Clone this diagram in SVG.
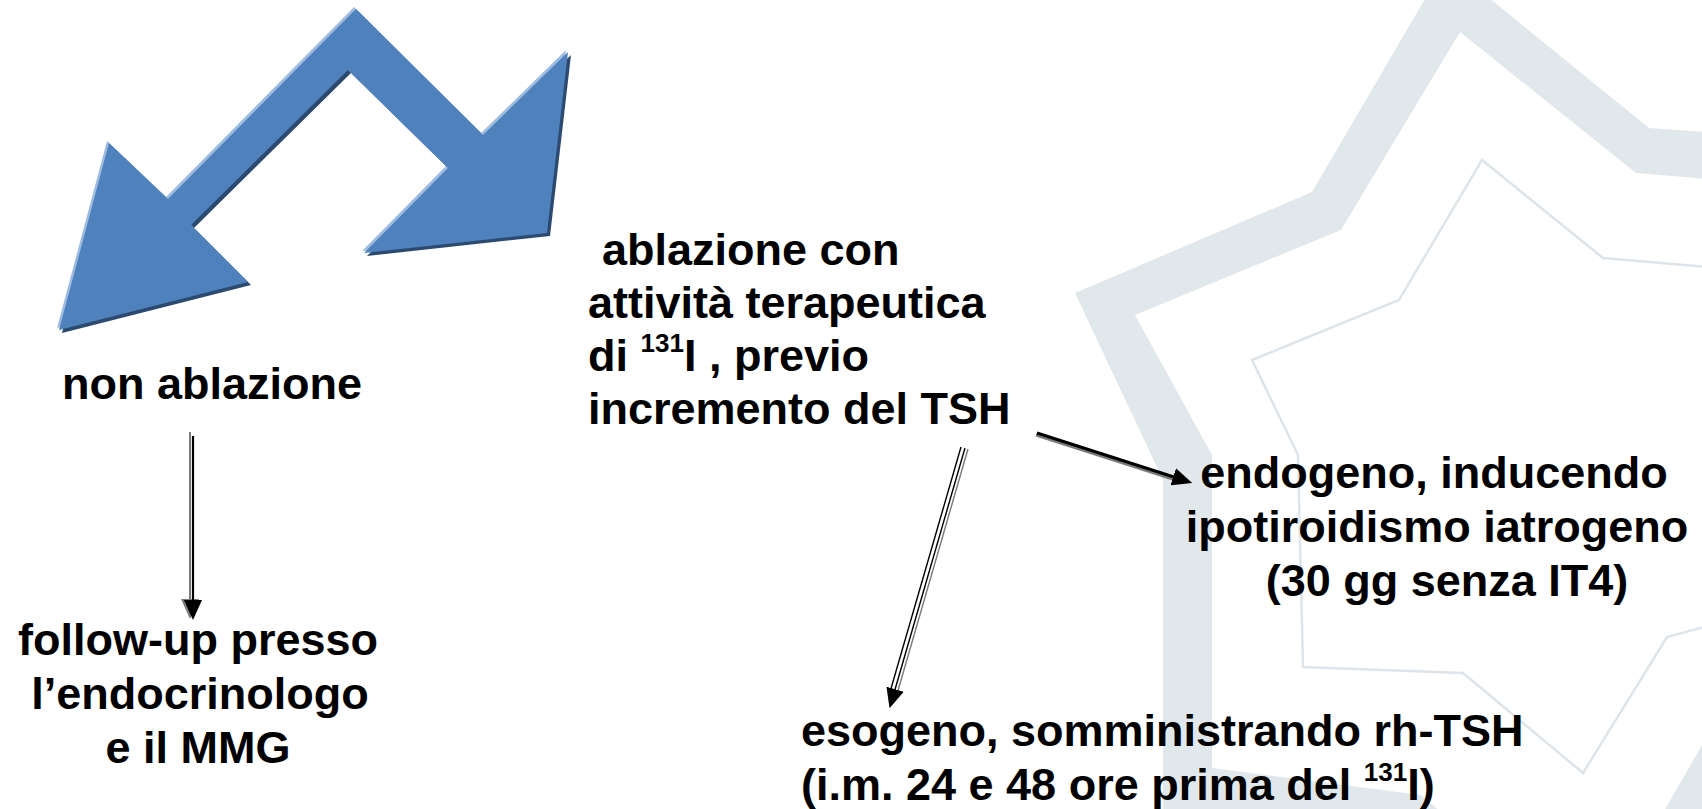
<svg xmlns="http://www.w3.org/2000/svg" xmlns:xlink="http://www.w3.org/1999/xlink" width="1702" height="809" viewBox="0 0 1702 809">
<style>
  .t { font-family: "Liberation Sans", Arial, sans-serif; font-weight: bold; font-size: 45px; fill: #000; }
  .sup { font-size: 26px; }
  .band { fill: #e1e8ec; fill-rule: evenodd; }
  .thin { fill: none; stroke: #dde5ea; stroke-width: 2.5; stroke-linejoin: miter; }
  .blk { stroke: #000; fill: none; }
  .gry { stroke: #7a7a7a; fill: none; }
</style>
<defs>
  <polygon id="zig" points="356,9 483,135 568,52 547,233 364,253 448,168 348,70 191,225 248,282 59,330 109,143 168,199"/>
  <marker id="ah" viewBox="0 0 20 18" refX="4" refY="9" markerWidth="20" markerHeight="18" markerUnits="userSpaceOnUse" orient="auto">
    <path d="M0,0 L20,9 L0,18 Z" fill="#000"/>
  </marker>
  <marker id="ahg" viewBox="0 0 20 18" refX="4" refY="9" markerWidth="20" markerHeight="18" markerUnits="userSpaceOnUse" orient="auto">
    <path d="M0,0 L20,9 L0,18 Z" fill="#7a7a7a"/>
  </marker>
</defs>
<rect x="0" y="0" width="1702" height="809" fill="#ffffff"/>

<g id="background-star">
  <path class="band" d="M1075,293 L1312,192 L1446,-37 L1649,128 L1970,150 L1920,440 L2000,690 L1765,740 L1615,995 L1404,840 L1163,815 L1163,480 Z M1135,315 L1212,455 L1212,768 L1421,795 L1590,940 L1725,705 L1930,680 L1860,440 L1900,195 L1636,173 L1460,32 L1341,230 Z"/>
  <polygon class="thin" points="1252,360 1399,300 1482,160 1603,258 1800,275 1765,445 1840,590 1667,637 1583,773 1463,673 1303,667 1298,455"/>
</g>

<g id="split-arrow">
  <use xlink:href="#zig" href="#zig" fill="#2c4a70" transform="translate(3,3)"/>
  <use xlink:href="#zig" href="#zig" fill="#9dbce0" transform="translate(-2,-2)"/>
  <use xlink:href="#zig" href="#zig" fill="#4f81bd"/>
</g>

<g id="node-non-ablazione">
  <text class="t" x="212" y="399" text-anchor="middle">non ablazione</text>
</g>

<g id="node-follow-up">
  <text class="t" x="198" y="655" text-anchor="middle">follow-up presso</text>
  <text class="t" x="200" y="709" text-anchor="middle">l’endocrinologo</text>
  <text class="t" x="198" y="763" text-anchor="middle">e il MMG</text>
</g>

<g id="node-ablazione">
  <text class="t" x="602" y="265">ablazione con</text>
  <text class="t" x="588" y="318">attività terapeutica</text>
  <text class="t" x="588" y="371">di <tspan class="sup" dy="-19">131</tspan><tspan dy="19">I , previo</tspan></text>
  <text class="t" x="588" y="424">incremento del TSH</text>
</g>

<g id="node-endogeno">
  <text class="t" x="1434" y="488" text-anchor="middle">endogeno, inducendo</text>
  <text class="t" x="1437" y="542" text-anchor="middle">ipotiroidismo iatrogeno</text>
  <text class="t" x="1447" y="596" text-anchor="middle">(30 gg senza IT4)</text>
</g>

<g id="node-esogeno">
  <text class="t" x="801" y="746">esogeno, somministrando rh-TSH</text>
  <text class="t" x="801" y="800">(i.m. 24 e 48 ore prima del <tspan class="sup" dy="-19">131</tspan><tspan dy="19">I)</tspan></text>
</g>

<g id="connectors">
  <line class="gry" x1="190" y1="432" x2="190" y2="603" stroke-width="2" marker-end="url(#ahg)"/>
  <line class="blk" x1="193" y1="436" x2="193" y2="604" stroke-width="2.2" marker-end="url(#ah)"/>

  <line class="gry" x1="968" y1="449" x2="897" y2="694" stroke-width="1.4"/>
  <line class="blk" x1="961" y1="447" x2="890" y2="692" stroke-width="1.4"/>
  <line class="blk" x1="965" y1="448" x2="894" y2="693" stroke-width="1.4" marker-end="url(#ah)"/>

  <line class="gry" x1="1036" y1="435" x2="1176" y2="480" stroke-width="3"/>
  <line class="blk" x1="1037" y1="433" x2="1177" y2="478" stroke-width="3" marker-end="url(#ah)"/>
</g>
</svg>
